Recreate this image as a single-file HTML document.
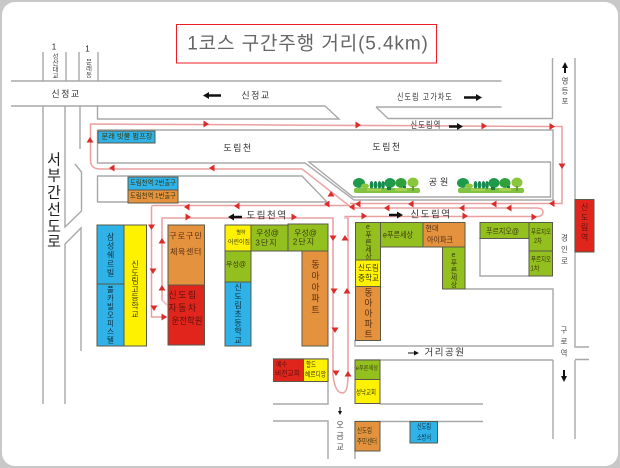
<!DOCTYPE html>
<html lang="ko"><head><meta charset="utf-8"><title>1코스 구간주행 거리</title>
<style>
html,body{margin:0;padding:0;background:#fff;width:620px;height:468px;overflow:hidden}
svg{display:block}
text{font-family:"Liberation Sans","Noto Sans CJK KR","NanumGothic",sans-serif;fill:#333;text-anchor:middle;dominant-baseline:central}
.v{writing-mode:vertical-rl;text-orientation:upright}
.b rect{stroke:#5a5a4a;stroke-width:1}
.g path{fill:none;stroke:#a8a8a8;stroke-width:1.4}
.r path{fill:none;stroke:#f2c0c0;stroke-width:1.800}
.r2 path{fill:none;stroke:#e08080;stroke-width:.5}
.l{font-size:9px;letter-spacing:1.5px;fill:#333}
.s{font-size:7px;fill:#3a3a10}
.t{font-size:8px;fill:#3a3a10}
.m{font-size:9px;fill:#4a3010}
</style></head><body>
<svg width="620" height="468" viewBox="0 0 620 468" xmlns="http://www.w3.org/2000/svg">
<defs>
<polygon id="ar" points="-2.5,-3.5 3,0 -2.5,3.5" fill="#dc2b2b"/>
<polygon id="al" points="2.5,-3.5 -3,0 2.5,3.5" fill="#dc2b2b"/>
<polygon id="au" points="-3.5,2.5 0,-3 3.5,2.5" fill="#dc2b2b"/>
<polygon id="ad" points="-3.5,-2.5 0,3 3.5,-2.5" fill="#dc2b2b"/>
<g id="tree">
<rect x="1" y="14" width="66" height="5" rx="2" fill="#82c341"/>
<ellipse cx="6" cy="9" rx="6" ry="5" fill="#1f9a4a"/><ellipse cx="12" cy="12" rx="4" ry="2.5" fill="#8cc63f"/>
<ellipse cx="18.500" cy="11" rx="1.800" ry="4" fill="#168a50"/><ellipse cx="22.500" cy="11" rx="1.800" ry="4" fill="#168a50"/><ellipse cx="26.500" cy="11" rx="1.800" ry="4" fill="#168a50"/><ellipse cx="30" cy="11" rx="1.800" ry="4" fill="#168a50"/>
<ellipse cx="37" cy="9" rx="5.500" ry="5" fill="#1f9a4a"/><ellipse cx="48" cy="9" rx="5.500" ry="5" fill="#2fa03a"/><ellipse cx="60" cy="8.500" rx="5.500" ry="5" fill="#8cc63f"/>
<rect x="34" y="13" width="4" height="3" fill="#1f7a40"/><rect x="50" y="12" width="3" height="4" fill="#1f7a40"/><rect x="59" y="12" width="2" height="5" fill="#6a9a30"/>
<rect x="14" y="14.500" width="14" height="2.500" fill="#a8d050"/><rect x="42" y="14" width="12" height="3" fill="#a8d050"/>
</g>
</defs>
<rect x="0" y="0" width="620" height="468" fill="#c8c8c8"/>
<rect x="2" y="2" width="616" height="464" rx="13" fill="#fff"/>

<rect x="176.500" y="24.500" width="260" height="38.500" fill="#fff" stroke="#ee1c25" stroke-width="1"/>
<text x="308" y="44" style="font-size:19px;letter-spacing:.9px;fill:#666">1코스 구간주행 거리(5.4km)</text>

<g class="g">
<path d="M43 52V81M66 52V81M79 52V81M98 52V81"/>
<path d="M11 81H501.500M11 106H325L339 119H97.500V106"/>
<path d="M376 107H501.500M376 107L388 118.500H552.500V58M575 58V347H589M575 359.500H589M575 360V439M553 360V439"/>
<path d="M43 106V404M65 106V227L81.500 211V172L75 164M65 404V244L81 228V351M80 106V149"/>
<path d="M97.500 130H553V200H354L305 163H97.500V130"/>
<path d="M309 162H550.500V197H353Z"/>
<path d="M97.500 176H302L327 202H97.500Z"/>
<path d="M480 238V276H529M465 289H553V346H355V340"/>
<path d="M355 360H553M380 404H483M355 421.500H483M355 421V459"/>
<path d="M273 404H328V359H273M273 421H328V459"/>
</g>

<g class="b">
<rect x="98" y="131" width="57" height="12" fill="#2eb2e8"/>
<rect x="128" y="177" width="50" height="13" fill="#2eb2e8"/>
<rect x="128" y="190" width="50" height="13" fill="#e5923f"/>
<rect x="97" y="225" width="27" height="59" fill="#2eb2e8"/>
<rect x="97" y="284" width="27" height="62" fill="#2eb2e8"/>
<rect x="124" y="225" width="22.500" height="121" fill="#fff200"/>
<rect x="168" y="225" width="36.500" height="60" fill="#e5923f"/>
<rect x="168" y="285" width="36.500" height="60" fill="#e0261c"/>
<rect x="225" y="225" width="26" height="26" fill="#fff200"/>
<rect x="251" y="225" width="37" height="26" fill="#93c01f"/>
<rect x="288" y="224" width="40" height="27" fill="#93c01f"/>
<rect x="225" y="251" width="26" height="31" fill="#93c01f"/>
<rect x="225" y="282" width="26" height="64" fill="#2eb2e8"/>
<rect x="302" y="251" width="26" height="95" fill="#e5923f"/>
<rect x="355.500" y="222.500" width="25" height="37.500" fill="#93c01f"/>
<rect x="355.500" y="260" width="25" height="26.500" fill="#fff200"/>
<rect x="355.500" y="286.500" width="25" height="54" fill="#e5923f"/>
<rect x="380.500" y="222.500" width="42.500" height="24.500" fill="#93c01f"/>
<rect x="423" y="222.500" width="42" height="24.500" fill="#e5923f"/>
<rect x="442.500" y="247" width="22.500" height="42" fill="#93c01f"/>
<rect x="480" y="222.500" width="49" height="16" fill="#93c01f"/>
<rect x="529" y="222.500" width="23.500" height="28.500" fill="#93c01f"/>
<rect x="529" y="251" width="23.500" height="25" fill="#93c01f"/>
<rect x="575" y="199.500" width="19" height="52.500" fill="#e0261c" stroke="#999"/>
<rect x="273.500" y="359" width="30" height="22.500" fill="#e0261c"/>
<rect x="303.500" y="359" width="24.500" height="22.500" fill="#fff200"/>
<rect x="355" y="360" width="25" height="19.500" fill="#93c01f"/>
<rect x="355" y="379.500" width="25" height="24" fill="#fff200"/>
<rect x="355" y="421.500" width="25" height="29.500" fill="#e5923f"/>
<rect x="410" y="421.500" width="27.500" height="21.500" fill="#2eb2e8"/>
</g>

<g class="r">
<path d="M90.500 130V124L550 126.500H562V203.500H350M352 208L302 169H100Q90.500 169 90.500 160V130"/>
<path d="M151.500 207V317H167M151.500 207Q151.500 205.500 155 205.500H350"/>
<path d="M167 305L162 300V218H333V375Q335 393 342.500 393Q348 393 348 375V218H345V216.500H537Q543 216.500 543 212Q543 208 537 208H352"/>
</g>
<g class="r2">
<path d="M90.500 124L550 126.500H562V203.500H350M352 208L302 169H100Q90.500 169 90.500 160V124"/>
<path d="M151.500 207V317H167M151.500 205.500H350"/>
<path d="M162 300V218H333V375Q335 393 342.500 393Q348 393 348 375V218M345 216.500H537Q543 216.500 543 212Q543 208 537 208H352"/>
</g>
<g>
<use href="#ar" x="206" y="124"/><use href="#au" x="90" y="140"/><use href="#al" x="112" y="168"/><use href="#al" x="212" y="168"/>
<use href="#al" x="187" y="207"/><use href="#al" x="237" y="206"/><use href="#ar" x="188" y="217"/><use href="#ar" x="294" y="217"/><use href="#ad" x="151.500" y="227"/>
<use href="#ar" x="358" y="125"/><use href="#ar" x="484" y="126"/><use href="#ar" x="552" y="126.500"/><use href="#ad" x="562" y="166"/>
<use href="#al" x="552" y="203.500"/><use href="#al" x="494" y="204"/><use href="#al" x="411" y="204"/><use href="#al" x="358" y="204"/><use href="#al" x="327" y="204"/>
<use href="#al" x="352" y="207"/><use href="#al" x="387" y="208"/><use href="#al" x="462" y="208"/><use href="#al" x="509" y="208"/>
<use href="#ar" x="534" y="217"/><use href="#ar" x="465" y="216"/><use href="#ar" x="364" y="216"/><use href="#au" x="331" y="194"/>
<use href="#au" x="162" y="241"/><use href="#ad" x="153" y="271"/><use href="#au" x="162" y="288"/><use href="#ad" x="154" y="308"/><use href="#ar" x="164" y="317"/>
<use href="#ad" x="333" y="238"/><use href="#au" x="345" y="238"/><use href="#ad" x="334" y="291"/><use href="#au" x="347" y="291"/><use href="#ad" x="335" y="330"/><use href="#ad" x="336" y="373"/><use href="#au" x="348" y="374"/>
</g>

<!-- black arrows -->
<g fill="#111" stroke="none">
<path d="M203 95.500L209 92V94.300H221V96.700H209V99Z"/>
<path d="M482 97.500L476 94V96.300H464V98.700H476V101Z"/>
<path d="M463 126.500L457 123V125.300H449V127.700H457V130Z"/>
<path d="M228 217L234 213.500V215.800H242V218.200H234V220.500Z"/>
<path d="M403 215L397 211.500V213.800H389V216.200H397V218.500Z"/>
<path d="M419 353L414 350.500V352.500H408V353.500H414V355.500Z"/>
<path d="M565 62L568 68H566V73H564V68H562Z"/>
<path d="M564 382L561 376H563V370H565V376H567Z"/>
<path d="M340 415L338 411H339.500V407H340.500V411H342Z"/>
</g>

<use href="#tree" x="353" y="174"/><use href="#tree" x="457" y="174"/>

<!-- road labels -->
<text x="54" y="47" style="font-size:8px;fill:#222">1</text>
<text x="87.500" y="49" style="font-size:8px;fill:#222">1</text>
<text class="v s" x="54" y="66" style="fill:#444;font-size:6.500px">성산대교</text>
<text class="v s" x="87.500" y="68" style="fill:#444;font-size:6.500px">문래동</text>
<text class="l" x="66" y="94">신정교</text>
<text class="l" x="256" y="95.500">신정교</text>
<text class="l" x="425" y="97" textLength="56" lengthAdjust="spacingAndGlyphs">신도림 고가차도</text>
<text class="l" x="426" y="125" textLength="31" lengthAdjust="spacingAndGlyphs">신도림역</text>
<text class="l" x="238" y="148">도림천</text>
<text class="l" x="387" y="147">도림천</text>
<text class="l" x="440" y="182" style="letter-spacing:3px">공원</text>
<text x="54" y="160" style="font-size:15px;fill:#222">서</text>
<text x="54" y="176" style="font-size:15px;fill:#222">부</text>
<text x="54" y="193" style="font-size:15px;fill:#222">간</text>
<text x="54" y="210" style="font-size:15px;fill:#222">선</text>
<text x="54" y="227" style="font-size:15px;fill:#222">도</text>
<text x="54" y="242" style="font-size:15px;fill:#222">로</text>
<text class="l" x="267" y="216" style="font-size:9.500px">도림천역</text>
<text class="l" x="431" y="215" style="font-size:9.500px">신도림역</text>
<text class="l" x="445" y="353" style="font-size:9.500px">거리공원</text>
<text class="v" x="565" y="92" style="font-size:7.500px;letter-spacing:2.500px;fill:#444">영등포</text>
<text class="v" x="564.500" y="251" style="font-size:7.500px;letter-spacing:4px;fill:#444">경인로</text>
<text class="v" x="564" y="343" style="font-size:7.500px;letter-spacing:4px;fill:#444">구로역</text>
<text class="v" x="340" y="437" style="font-size:8px;letter-spacing:3px;fill:#444">오금교</text>

<!-- building labels -->
<text class="s" x="127" y="137" textLength="51" lengthAdjust="spacingAndGlyphs">문래 빗물 펌프장</text>
<text class="s" x="153" y="183.500" textLength="46" lengthAdjust="spacingAndGlyphs">도림천역 2번출구</text>
<text class="s" x="153" y="196.500" textLength="46" lengthAdjust="spacingAndGlyphs">도림천역 1번출구</text>
<text class="v t" x="110.500" y="255" style="letter-spacing:1px;fill:#103040">삼성쉐르빌</text>
<text class="v t" x="110.500" y="315" style="font-size:7.500px;letter-spacing:.9px;fill:#103040">풀카빌오피스텔</text>
<text class="v t" x="135" y="289" style="letter-spacing:.3px">신도림고등학교</text>
<text class="t" x="186" y="236" style="letter-spacing:1px;fill:#5a3010">구로구민</text>
<text class="t" x="186" y="252" style="letter-spacing:.6px;fill:#5a3010">체육센터</text>
<text class="m" x="183" y="295" style="letter-spacing:1.500px;fill:#601010">신도림</text>
<text class="m" x="183" y="308" style="letter-spacing:1.500px;fill:#601010">자동차</text>
<text class="m" x="187" y="321" textLength="31" lengthAdjust="spacingAndGlyphs" style="fill:#601010">운전학원</text>
<text class="s" x="241" y="233" style="font-size:5px">별하</text>
<text class="s" x="239" y="243" textLength="22" lengthAdjust="spacingAndGlyphs" style="font-size:6px">어린이집</text>
<text class="t" x="267.500" y="233">우성@</text>
<text class="t" x="266.500" y="243" style="letter-spacing:1px">3단지</text>
<text class="t" x="305.500" y="233">우성@</text>
<text class="t" x="304" y="242" style="letter-spacing:1px">2단지</text>
<text class="s" x="236" y="265">우성@</text>
<text class="v t" x="238" y="314" style="letter-spacing:.8px;fill:#103040">신도림초등학교</text>
<text class="v m" x="315" y="288" style="letter-spacing:2.300px;fill:#5a3010">동아아파트</text>
<text class="v s" x="368" y="242" style="letter-spacing:.3px;font-size:7px">e푸른세상</text>
<text class="t" x="368.500" y="268" textLength="21" lengthAdjust="spacingAndGlyphs">신도림</text>
<text class="t" x="368.500" y="278" textLength="21" lengthAdjust="spacingAndGlyphs">중학교</text>
<text class="v m" x="368" y="314" style="letter-spacing:1.500px;fill:#5a3010">동아아파트</text>
<text class="t" x="398" y="235" textLength="30" lengthAdjust="spacingAndGlyphs">e푸른세상</text>
<text class="t" x="432" y="229" style="font-size:7px;fill:#4a2a10">현대</text>
<text class="t" x="440" y="240" textLength="26" lengthAdjust="spacingAndGlyphs" style="fill:#4a2a10">아이파크</text>
<text class="v s" x="453.500" y="270" style="letter-spacing:.3px;font-size:7px">e푸른세상</text>
<text class="t" x="502.500" y="231.500" textLength="33" lengthAdjust="spacingAndGlyphs">푸르지오@</text>
<text class="s" x="541" y="232.500" textLength="20" lengthAdjust="spacingAndGlyphs">푸르지오</text>
<text class="s" x="538" y="241.500" textLength="8" lengthAdjust="spacingAndGlyphs">2차</text>
<text class="s" x="541" y="260" textLength="20" lengthAdjust="spacingAndGlyphs">푸르지오</text>
<text class="s" x="535" y="269" textLength="9" lengthAdjust="spacingAndGlyphs">1차</text>
<text class="v t" x="584.500" y="223" style="letter-spacing:2px;fill:#601010">신도림역</text>
<text class="s" x="281.500" y="365" textLength="11" lengthAdjust="spacingAndGlyphs" style="fill:#601010">예수</text>
<text class="s" x="287.500" y="374" textLength="25" lengthAdjust="spacingAndGlyphs" style="fill:#601010">비전교회</text>
<text class="s" x="311" y="365" textLength="10" lengthAdjust="spacingAndGlyphs">할드</text>
<text class="s" x="315.500" y="375" textLength="21" lengthAdjust="spacingAndGlyphs">헤르디앙</text>
<text class="s" x="367" y="369" textLength="22" lengthAdjust="spacingAndGlyphs" style="font-size:6px">e푸른세상</text>
<text class="s" x="366" y="393" textLength="20" lengthAdjust="spacingAndGlyphs">성낙교회</text>
<text class="s" x="364.500" y="431" textLength="15" lengthAdjust="spacingAndGlyphs">신도림</text>
<text class="s" x="367" y="442" textLength="20" lengthAdjust="spacingAndGlyphs">주민센터</text>
<text class="s" x="424" y="427" textLength="14" lengthAdjust="spacingAndGlyphs" style="fill:#103040">신도림</text>
<text class="s" x="424" y="438" textLength="14" lengthAdjust="spacingAndGlyphs" style="fill:#103040">소방서</text>
</svg>
</body></html>
